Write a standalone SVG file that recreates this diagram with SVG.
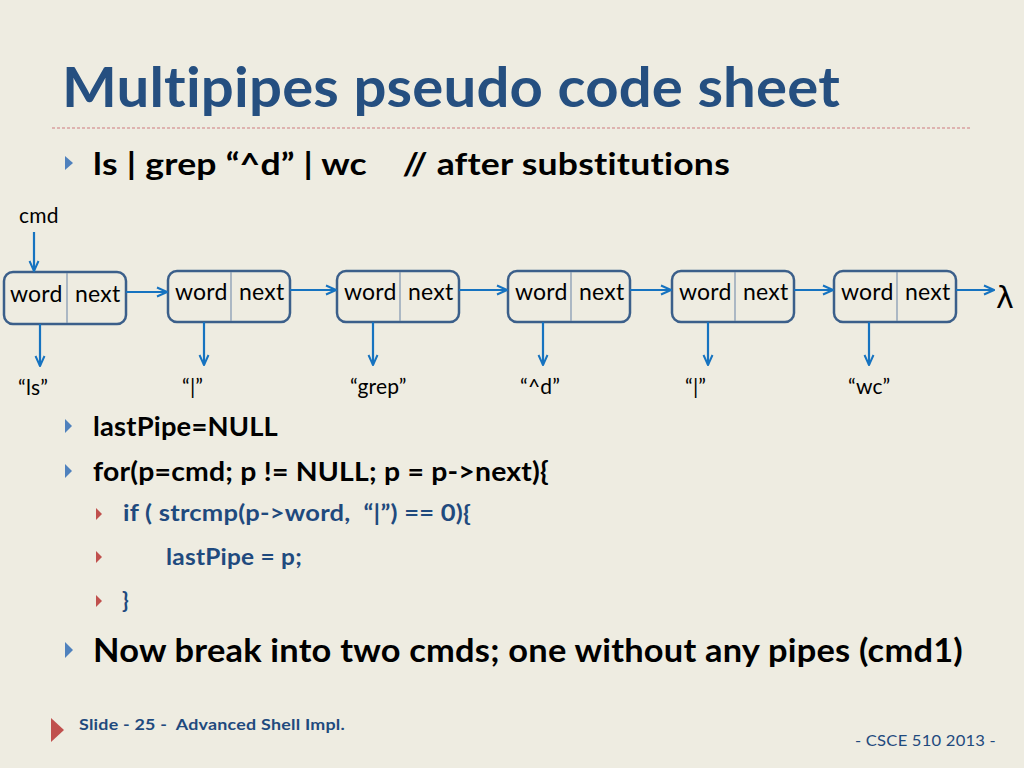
<svg xmlns="http://www.w3.org/2000/svg" width="1024" height="768" viewBox="0 0 1024 768">
<defs>
<marker id="ah" viewBox="0 0 12 12" refX="11" refY="6" markerWidth="12" markerHeight="12" markerUnits="userSpaceOnUse" orient="auto">
<path d="M1,1.5 L11,6 L1,10.5" fill="none" stroke="#1673C0" stroke-width="2"/>
</marker>
<style>
text{font-variant-ligatures:none;font-feature-settings:"liga" 0,"clig" 0,"dlig" 0;letter-spacing:0.2px}
.bg{fill:#EEECE1}
.node rect{fill:#EEECE1;stroke:#3B5F8A;stroke-width:2.5}
.node line{stroke:#7F95B0;stroke-width:1.2}
.nt{font-family:Lato,"Liberation Sans",sans-serif;font-size:23px;fill:#000}
.lbl{font-family:Lato,"Liberation Sans",sans-serif;font-size:21px;fill:#000}
.conn line{stroke:#1673C0;stroke-width:2.2;marker-end:url(#ah)}
.title{font-family:Lato,"Liberation Sans",sans-serif;font-weight:bold;font-size:56px;fill:#254F80}
.b1{font-family:Lato,"Liberation Sans",sans-serif;font-weight:bold;fill:#000}
.b2{font-family:Lato,"Liberation Sans",sans-serif;font-weight:bold;font-size:22px;fill:#1F4A7E}
.tb{fill:#4F81BD}
.tr{fill:#C0504D}
</style>
</defs>
<rect class="bg" x="0" y="0" width="1024" height="768"/>
<text class="title" x="62" y="107" textLength="778" lengthAdjust="spacingAndGlyphs">Multipipes pseudo code sheet</text>
<line x1="52" y1="128" x2="972" y2="128" stroke="#D9A0A0" stroke-width="1.3" stroke-dasharray="3,2"/>
<polygon class="tb" points="65,156 73,163 65,170"/>
<text class="b1" x="93" y="175" font-size="30" textLength="637" lengthAdjust="spacingAndGlyphs" xml:space="preserve">ls | grep “^d” | wc    // after substitutions</text>

<text class="lbl" x="19" y="223">cmd</text>

<g id="n1" class="node"><rect x="4" y="272" width="122" height="52" rx="9"/><line x1="67" y1="273" x2="67" y2="323"/><text class="nt" x="10" y="302">word</text><text class="nt" x="75" y="302">next</text></g>
<g id="n2" class="node"><rect x="168" y="271" width="122" height="51" rx="9"/><line x1="231" y1="272" x2="231" y2="321"/><text class="nt" x="175" y="300">word</text><text class="nt" x="239" y="300">next</text></g>
<g id="n3" class="node"><rect x="337" y="271" width="122" height="51" rx="9"/><line x1="400" y1="272" x2="400" y2="321"/><text class="nt" x="344" y="300">word</text><text class="nt" x="408" y="300">next</text></g>
<g id="n4" class="node"><rect x="508" y="271" width="122" height="51" rx="9"/><line x1="571" y1="272" x2="571" y2="321"/><text class="nt" x="515" y="300">word</text><text class="nt" x="579" y="300">next</text></g>
<g id="n5" class="node"><rect x="672" y="271" width="122" height="51" rx="9"/><line x1="735" y1="272" x2="735" y2="321"/><text class="nt" x="679" y="300">word</text><text class="nt" x="743" y="300">next</text></g>
<g id="n6" class="node"><rect x="834" y="271" width="122" height="51" rx="9"/><line x1="897" y1="272" x2="897" y2="321"/><text class="nt" x="841" y="300">word</text><text class="nt" x="905" y="300">next</text></g>

<g id="connectors" class="conn">
<line x1="34" y1="232" x2="34" y2="271"/>
<line x1="126" y1="292" x2="167" y2="292"/>
<line x1="290" y1="290" x2="336" y2="290"/>
<line x1="459" y1="290" x2="507" y2="290"/>
<line x1="630" y1="290" x2="671" y2="290"/>
<line x1="794" y1="290" x2="833" y2="290"/>
<line x1="956" y1="290" x2="994" y2="290"/>
<line x1="40" y1="324" x2="40" y2="366"/>
<line x1="204" y1="322" x2="204" y2="365"/>
<line x1="373" y1="322" x2="373" y2="365"/>
<line x1="543" y1="322" x2="543" y2="365"/>
<line x1="708" y1="322" x2="708" y2="365"/>
<line x1="869" y1="322" x2="869" y2="365"/>
</g>

<text x="996" y="308" font-family="'DejaVu Sans',sans-serif" font-size="30" fill="#000">λ</text>

<text class="lbl" x="18" y="395">“ls”</text>
<text class="lbl" x="182" y="394">“|”</text>
<text class="lbl" x="350" y="394">“grep”</text>
<text class="lbl" x="520" y="394">“^d”</text>
<text class="lbl" x="685" y="394">“|”</text>
<text class="lbl" x="848" y="394">“wc”</text>

<polygon class="tb" points="65,419 72,426 65,433"/>
<text class="b1" x="93" y="436" font-size="26" textLength="185" lengthAdjust="spacingAndGlyphs">lastPipe=NULL</text>
<polygon class="tb" points="65,464 72,471 65,478"/>
<text class="b1" x="93" y="481" font-size="26" textLength="456" lengthAdjust="spacingAndGlyphs">for(p=cmd; p != NULL; p = p-&gt;next){</text>

<polygon class="tr" points="96,508 102,514 96,520"/>
<text class="b2" x="123" y="521" textLength="348" lengthAdjust="spacingAndGlyphs" xml:space="preserve">if ( strcmp(p-&gt;word,  “|”) == 0){</text>
<polygon class="tr" points="96,551 102,557 96,563"/>
<text class="b2" x="166" y="565" textLength="136" lengthAdjust="spacingAndGlyphs">lastPipe = p;</text>
<polygon class="tr" points="96,595 102,601 96,607"/>
<text class="b2" x="122" y="608">}</text>

<polygon class="tb" points="65,642 73,650 65,658"/>
<text class="b1" x="93" y="662" font-size="32" textLength="870" lengthAdjust="spacingAndGlyphs">Now break into two cmds; one without any pipes (cmd1)</text>

<polygon class="tr" points="51,718 64,730 51,742"/>
<text x="79" y="730" font-family="Lato,'Liberation Sans',sans-serif" font-weight="bold" font-size="15" fill="#1F4A7E" textLength="266" lengthAdjust="spacingAndGlyphs" xml:space="preserve">Slide - 25 -  Advanced Shell Impl.</text>
<text x="855" y="746" font-family="Lato,'Liberation Sans',sans-serif" font-size="16" fill="#1F4A7E" textLength="141" lengthAdjust="spacingAndGlyphs">- CSCE 510 2013 -</text>
</svg>
